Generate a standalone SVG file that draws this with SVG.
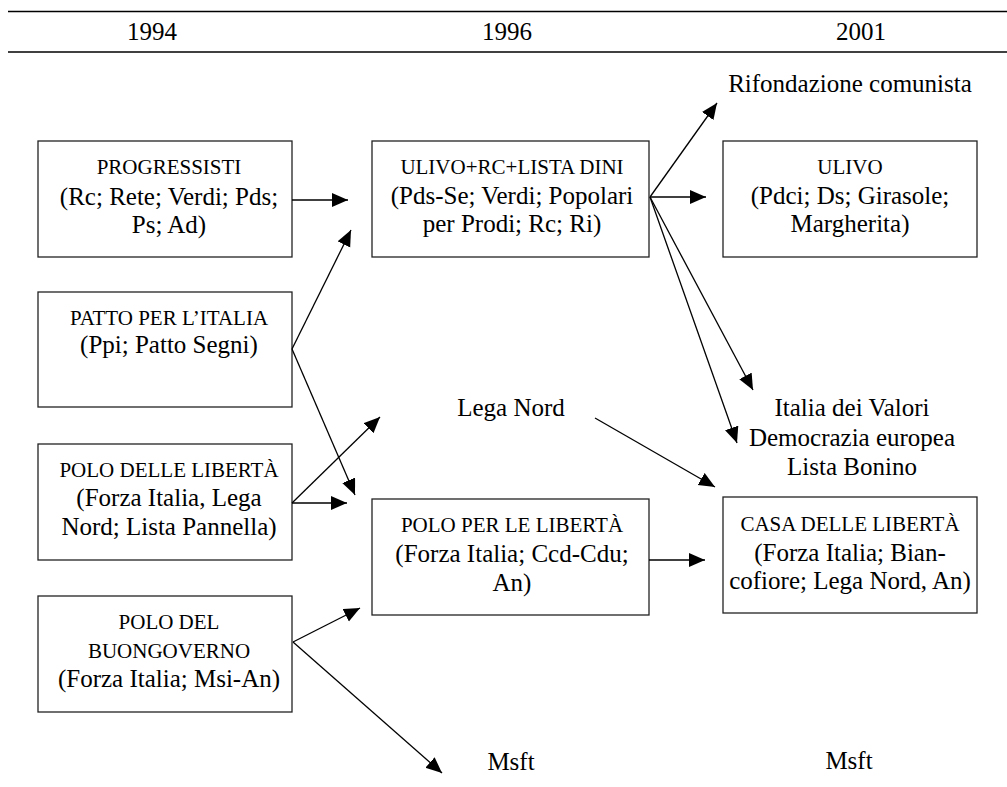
<svg xmlns="http://www.w3.org/2000/svg" width="1007" height="787" viewBox="0 0 1007 787">
<style>
text{fill:#000;text-anchor:middle}
.box{fill:#fff;stroke:#222;stroke-width:1.3}
.rule{stroke:#000;stroke-width:1.5}
.conn line{stroke:#000;stroke-width:1.3;marker-end:url(#ah)}
</style>
<defs>
<marker id="ah" markerUnits="userSpaceOnUse" markerWidth="17" markerHeight="15" refX="16" refY="7" orient="auto">
<path d="M0,0 L16,7 L0,14 z" fill="#000"/>
</marker>
</defs>
<rect width="1007" height="787" fill="#fff"/>
<g id="header">
<line class="rule" x1="8" y1="11.5" x2="1007" y2="11.5"/>
<line class="rule" x1="8" y1="52" x2="1007" y2="52"/>
<text font-family="Liberation Serif" font-size="25" x="152" y="40">1994</text>
<text font-family="Liberation Serif" font-size="25" x="507" y="40">1996</text>
<text font-family="Liberation Serif" font-size="25" x="861" y="40">2001</text>
</g>
<g id="progressisti">
<rect class="box" x="38" y="141" width="254" height="116"/>
<text font-family="Liberation Serif" font-size="21" x="169" y="174">PROGRESSISTI</text>
<text font-family="Liberation Serif" font-size="25" x="169" y="205">(Rc; Rete; Verdi; Pds;</text>
<text font-family="Liberation Serif" font-size="25" x="169" y="233">Ps; Ad)</text>
</g>
<g id="patto">
<rect class="box" x="38" y="292" width="254" height="115"/>
<text font-family="Liberation Serif" font-size="21" x="169" y="325">PATTO PER L’ITALIA</text>
<text font-family="Liberation Serif" font-size="25" x="169" y="353">(Ppi; Patto Segni)</text>
</g>
<g id="polo-delle">
<rect class="box" x="38" y="444" width="254" height="116"/>
<text font-family="Liberation Serif" font-size="21" x="169" y="477">POLO DELLE LIBERTÀ</text>
<text font-family="Liberation Serif" font-size="25" x="169" y="506">(Forza Italia, Lega</text>
<text font-family="Liberation Serif" font-size="25" x="169" y="535">Nord; Lista Pannella)</text>
</g>
<g id="buongoverno">
<rect class="box" x="38" y="596" width="254" height="116"/>
<text font-family="Liberation Serif" font-size="21" x="169" y="629">POLO DEL</text>
<text font-family="Liberation Serif" font-size="21" x="169" y="658">BUONGOVERNO</text>
<text font-family="Liberation Serif" font-size="25" x="169" y="687">(Forza Italia; Msi-An)</text>
</g>
<g id="ulivo-rc">
<rect class="box" x="372" y="141" width="277" height="116"/>
<text font-family="Liberation Serif" font-size="21" x="512" y="174">ULIVO+RC+LISTA DINI</text>
<text font-family="Liberation Serif" font-size="25" x="512" y="204">(Pds-Se; Verdi; Popolari</text>
<text font-family="Liberation Serif" font-size="25" x="512" y="232">per Prodi; Rc; Ri)</text>
</g>
<g id="lega-nord">
<text font-family="Liberation Serif" font-size="25" x="511" y="416">Lega Nord</text>
</g>
<g id="polo-per">
<rect class="box" x="372" y="499" width="277" height="116"/>
<text font-family="Liberation Serif" font-size="21" x="512" y="532">POLO PER LE LIBERTÀ</text>
<text font-family="Liberation Serif" font-size="25" x="512" y="562">(Forza Italia; Ccd-Cdu;</text>
<text font-family="Liberation Serif" font-size="25" x="512" y="591">An)</text>
</g>
<g id="msft-1996">
<text font-family="Liberation Serif" font-size="25" x="511" y="770">Msft</text>
</g>
<g id="rifondazione">
<text font-family="Liberation Serif" font-size="25" x="850" y="92">Rifondazione comunista</text>
</g>
<g id="ulivo">
<rect class="box" x="723" y="141" width="254" height="116"/>
<text font-family="Liberation Serif" font-size="21" x="850" y="174">ULIVO</text>
<text font-family="Liberation Serif" font-size="25" x="850" y="204">(Pdci; Ds; Girasole;</text>
<text font-family="Liberation Serif" font-size="25" x="850" y="232">Margherita)</text>
</g>
<g id="italia-valori">
<text font-family="Liberation Serif" font-size="25" x="852" y="416">Italia dei Valori</text>
<text font-family="Liberation Serif" font-size="25" x="852" y="446">Democrazia europea</text>
<text font-family="Liberation Serif" font-size="25" x="852" y="475">Lista Bonino</text>
</g>
<g id="casa">
<rect class="box" x="723" y="497" width="254" height="116"/>
<text font-family="Liberation Serif" font-size="21" x="850" y="531">CASA DELLE LIBERTÀ</text>
<text font-family="Liberation Serif" font-size="25" x="850" y="561">(Forza Italia; Bian-</text>
<text font-family="Liberation Serif" font-size="25" x="850" y="589">cofiore; Lega Nord, An)</text>
</g>
<g id="msft-2001">
<text font-family="Liberation Serif" font-size="25" x="849" y="769">Msft</text>
</g>
<g id="connectors" class="conn">
<line x1="292" y1="200" x2="348" y2="200"/>
<line x1="292" y1="349" x2="351" y2="230"/>
<line x1="292" y1="349" x2="355" y2="495"/>
<line x1="292" y1="503" x2="380" y2="417"/>
<line x1="292" y1="503" x2="347" y2="503"/>
<line x1="293" y1="642" x2="360" y2="608"/>
<line x1="293" y1="642" x2="442" y2="773"/>
<line x1="650" y1="197" x2="717" y2="103"/>
<line x1="650" y1="197" x2="706" y2="197"/>
<line x1="650" y1="197" x2="753" y2="390"/>
<line x1="650" y1="197" x2="737" y2="443"/>
<line x1="595" y1="418" x2="715" y2="487"/>
<line x1="649" y1="560" x2="705" y2="560"/>
</g>
</svg>
